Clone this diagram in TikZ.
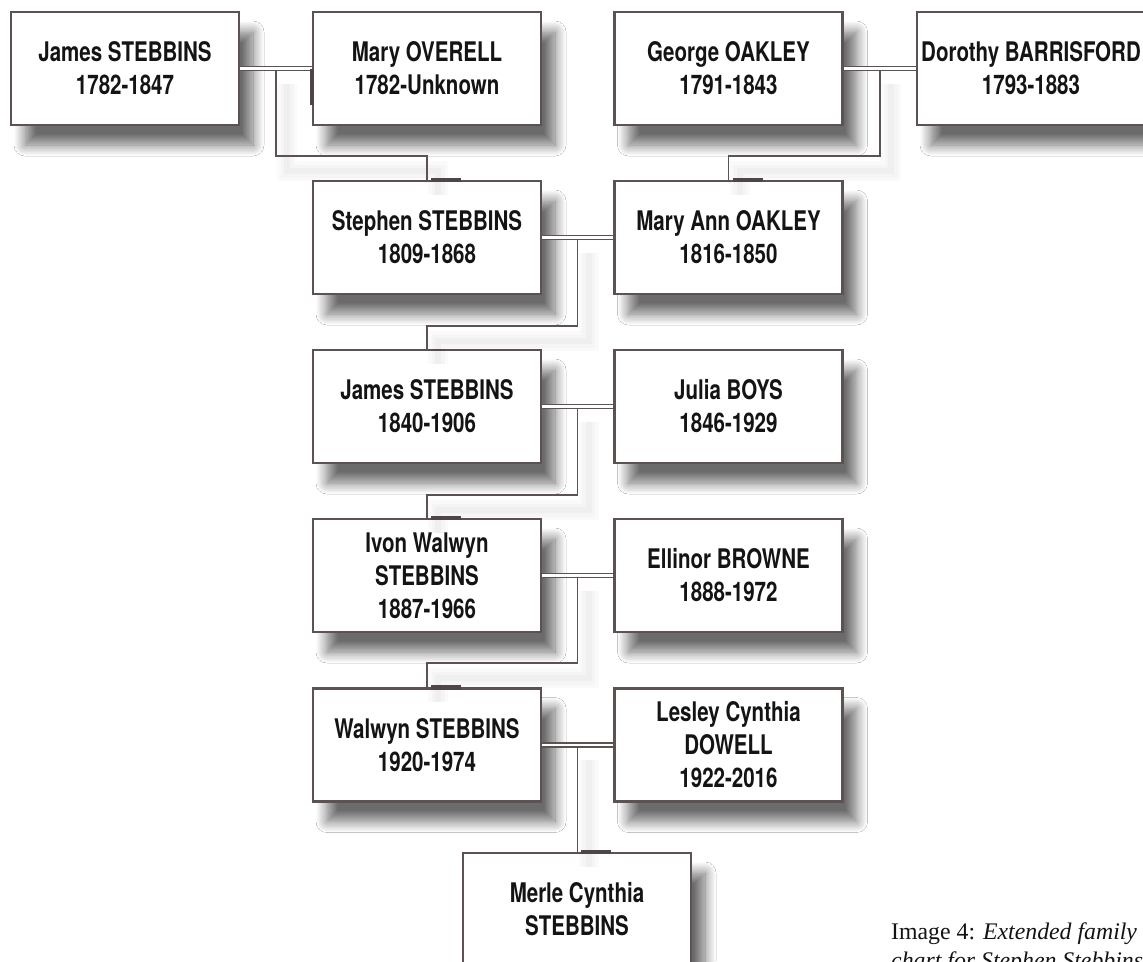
\documentclass[tikz,border=0pt]{standalone}
\usepackage{fontspec}
\setmainfont{TeX Gyre Heros}[FakeStretch=0.76]
\newfontfamily\capfont{Liberation Serif}
\usetikzlibrary{shadows.blur}
\definecolor{boxline}{RGB}{92,82,82}
\definecolor{inkdark}{RGB}{20,20,20}
\tikzset{
  person/.style={draw=boxline, line width=2.5pt, rectangle, fill=white,
    minimum width=228pt, minimum height=113pt, align=center, text=inkdark,
    font=\bfseries\fontsize{27}{33}\selectfont,
    blur shadow={shadow xshift=14pt, shadow yshift=-20pt,
      shadow blur radius=11pt, shadow blur steps=14, shadow opacity=58}},
  wed/.style={draw=boxline, double=white, double distance=2.6pt, line width=1.3pt},
  kid/.style={draw=boxline, line width=1.8pt,
    preaction={draw=black, opacity=0.018, line width=20pt, transform canvas={shift={(11pt,-15pt)}}},
    preaction={draw=black, opacity=0.02, line width=13pt, transform canvas={shift={(11pt,-15pt)}}},
    preaction={draw=black, opacity=0.025, line width=6pt, transform canvas={shift={(11pt,-15pt)}}}},
  tab/.style={draw=boxline!85!black, line width=4.5pt},
  caption/.style={anchor=base west, inner sep=0pt, text=inkdark, font=\capfont\fontsize{23.8}{29}\selectfont},
}
\begin{document}
\begin{tikzpicture}[x=1pt, y=-1pt]
                \useasboundingbox[fill=white] (0,0) rectangle (1143,961);
                % grandparents
                \node at (125,68.5) [person] (JamesS) {James STEBBINS\\1782-1847};
                \node at (427,68.5) [person] (MaryO) {Mary OVERELL\\1782-Unknown};
                \node at (728.5,68.5) [person] (GeorgeO) {George OAKLEY\\1791-1843};
                \node at (1031,68.5) [person] (DorothyB) {Dorothy BARRISFORD\\1793-1883};
                % line of descent
                \node at (427,237.5) [person] (Stephen) {Stephen STEBBINS\\1809-1868};
                \node at (728.5,237.5) [person] (MaryAnn) {Mary Ann OAKLEY\\1816-1850};
                \node at (427,406.5) [person] (James) {James STEBBINS\\1840-1906};
                \node at (728.5,406.5) [person] (Julia) {Julia BOYS\\1846-1929};
                \node at (427,575.5) [person] (Ivon) {Ivon Walwyn\\STEBBINS\\1887-1966};
                \node at (728.5,575.5) [person] (Ellinor) {Ellinor BROWNE\\1888-1972};
                \node at (427,745) [person] (Walwyn) {Walwyn STEBBINS\\1920-1974};
                \node at (728.5,745) [person] (Lesley) {Lesley Cynthia\\DOWELL\\1922-2016};
                \node at (577,909.5) [person] (Merle) {Merle Cynthia\\STEBBINS};
                % couples
                \coordinate (m1) at (276,69);
                \coordinate (m2) at (880,69);
                \coordinate (m3) at (577.5,238);
                \coordinate (m4) at (577.5,407);
                \coordinate (m5) at (577.5,576);
                \coordinate (m6) at (577.5,745);
                \draw[kid] (m1) -- ++(0,87) -| (Stephen.north);
                \draw[kid] (m2) -- ++(0,87) -| (MaryAnn.north);
                \draw[kid] (m3) -- ++(0,88) -| (James.north);
                \draw[kid] (m4) -- ++(0,88) -| (Ivon.north);
                \draw[kid] (m5) -- ++(0,87) -| (Walwyn.north);
                \draw[kid] (m6) -- (m6 |- Merle.north);
                \draw[wed] (JamesS) -- (MaryO);
                \draw[wed] (GeorgeO) -- (DorothyB);
                \draw[wed] (Stephen) -- (MaryAnn);
                \draw[wed] (James) -- (Julia);
                \draw[wed] (Ivon) -- (Ellinor);
                \draw[wed] (Walwyn) -- (Lesley);
                % thick marks on the borders
                \draw[tab] (MaryO.west) -- ++(0,36);
                \foreach \p in {Stephen, MaryAnn, Ivon, Walwyn, Merle}
                    \draw[tab] (\p.north) ++(4,0) -- ++(30,0);
                % caption
                \node[caption] (cap1) at (891,939) {Image 4: \textit{Extended family}};
                \node[caption] (cap2) at (891,968) {\textit{chart for Stephen Stebbins}};
            \end{tikzpicture}
\end{document}
